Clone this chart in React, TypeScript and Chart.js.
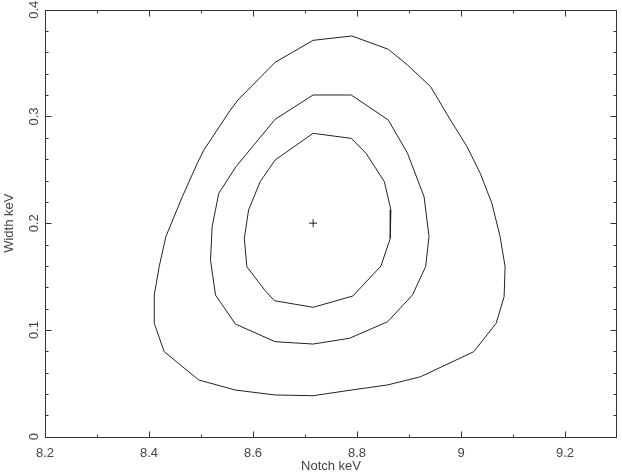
import React, { useEffect, useRef } from 'react';
import { Chart, registerables } from 'chart.js';

Chart.register(...registerables);

const xTitle = 'Notch keV';
const yTitle = 'Width keV';

const xMajorTicks = [8.2, 8.4, 8.6, 8.8, 9, 9.2];
const xMinorTicks = [8.3, 8.5, 8.7, 8.9, 9.1];
const yMajorTicks = [0, 0.1, 0.2, 0.3, 0.4];
const yMinorTicks = [
  0.02, 0.04, 0.06, 0.08, 0.12, 0.14, 0.16, 0.18, 0.22, 0.24, 0.26, 0.28, 0.32, 0.34, 0.36, 0.38,
];

// Outer contour
const outerX = [
  8.7156, 8.7901, 8.8602, 8.8971, 8.9416, 8.9797, 9.0116, 9.037, 9.0594, 9.0752, 9.0848, 9.0829,
  9.0676, 9.0244, 8.9224, 8.8589, 8.7888, 8.7156, 8.6425, 8.5661, 8.496, 8.4292, 8.4101, 8.4101,
  8.4196, 8.4324, 8.4641, 8.4928, 8.5056, 8.5565, 8.5711, 8.6425,
];
const outerY = [
  0.3713, 0.3754, 0.3629, 0.3482, 0.3279, 0.2967, 0.2717, 0.2467, 0.2186, 0.1874, 0.1593, 0.1311,
  0.1062, 0.0796, 0.0562, 0.0485, 0.0437, 0.0384, 0.0391, 0.0437, 0.0531, 0.0796, 0.1062, 0.1327,
  0.1593, 0.1874, 0.2248, 0.2561, 0.2686, 0.306, 0.3154, 0.3507,
];

// Middle contour
const middleX = [
  8.7156, 8.7888, 8.8602, 8.8971, 8.929, 8.9385, 8.932, 8.9066, 8.8589, 8.7857, 8.7156, 8.6425,
  8.5661, 8.5279, 8.5183, 8.5214, 8.5342, 8.5672, 8.6425,
];
const middleY = [
  0.3201, 0.3201, 0.2967, 0.2655, 0.2248, 0.1874, 0.1593, 0.1327, 0.1077, 0.0922, 0.0868, 0.089,
  0.1056, 0.1327, 0.1655, 0.1967, 0.228, 0.2529, 0.2973,
];

// Inner contour
const innerX = [
  8.7156, 8.7888, 8.8174, 8.8526, 8.8652, 8.864, 8.8461, 8.792, 8.7156, 8.6411, 8.6234, 8.5882,
  8.5833, 8.5915, 8.6138, 8.6425,
];
const innerY = [
  0.2842, 0.2795, 0.2655, 0.2389, 0.2124, 0.1859, 0.1599, 0.1318, 0.1212, 0.1274, 0.1368, 0.1592,
  0.1859, 0.2124, 0.2389, 0.2592,
];

const bestX = [8.7156];
const bestY = [0.2];

const closed = (xs: number[], ys: number[]) => {
  const pts = xs.map((x, i) => ({ x, y: ys[i] }));
  pts.push({ x: xs[0], y: ys[0] });
  return pts;
};

const fmt = (v: number) => String(parseFloat(v.toFixed(3)));

const framePlugin = {
  id: 'pgframe',
  afterDatasetsDraw(chart: any) {
    const { ctx, chartArea: a, scales } = chart;
    const xs = scales.x;
    const ys = scales.y;
    const snap = (v: number) => Math.round(v) + 0.5;
    ctx.save();
    ctx.strokeStyle = '#333';
    ctx.lineWidth = 1;
    const line = (x1: number, y1: number, x2: number, y2: number) => {
      ctx.beginPath();
      ctx.moveTo(x1, y1);
      ctx.lineTo(x2, y2);
      ctx.stroke();
    };
    const L = snap(a.left), R = snap(a.right - 1), T = snap(a.top), B = snap(a.bottom);
    ctx.strokeRect(L, T, R - L, B - T);
    const xTick = (v: number, len: number) => {
      const px = snap(xs.getPixelForValue(v));
      line(px, B, px, B - len);
      line(px, T, px, T + len);
    };
    const yTick = (v: number, len: number) => {
      const py = snap(ys.getPixelForValue(v));
      line(L, py, L + len, py);
      line(R, py, R - len, py);
    };
    xMajorTicks.forEach((v) => xTick(v, 6));
    xMinorTicks.forEach((v) => xTick(v, 3));
    yMajorTicks.forEach((v) => yTick(v, 6));
    yMinorTicks.forEach((v) => yTick(v, 3));

    ctx.fillStyle = '#444';
    ctx.font = '13px "Liberation Sans", Arial, sans-serif';
    ctx.textAlign = 'center';
    ctx.textBaseline = 'alphabetic';
    xMajorTicks.forEach((v) => {
      ctx.fillText(fmt(v), xs.getPixelForValue(v), a.bottom + 19.8);
    });
    ctx.fillText(xTitle, (a.left + a.right) / 2, a.bottom + 33.3);
    yMajorTicks.forEach((v) => {
      ctx.save();
      ctx.translate(a.left - 7.5, ys.getPixelForValue(v));
      ctx.rotate(-Math.PI / 2);
      ctx.fillText(fmt(v), 0, 0);
      ctx.restore();
    });
    ctx.save();
    ctx.translate(13, (a.top + a.bottom) / 2);
    ctx.rotate(-Math.PI / 2);
    ctx.fillText(yTitle, 0, 0);
    ctx.restore();
    ctx.restore();
  },
};

export default function App() {
  const ref = useRef<HTMLCanvasElement>(null);

  useEffect(() => {
    document.body.style.margin = '0';
    const canvas = ref.current;
    if (!canvas) return;
    const lineStyle = {
      showLine: true,
      borderColor: '#222',
      borderWidth: 1,
      pointRadius: 0,
      fill: false,
      tension: 0,
    };
    const chart = new Chart(canvas, {
      type: 'scatter',
      data: {
        datasets: [
          { label: 'outer', data: closed(outerX, outerY), ...lineStyle },
          { label: 'middle', data: closed(middleX, middleY), ...lineStyle },
          { label: 'inner', data: closed(innerX, innerY), ...lineStyle },
          {
            label: 'best',
            data: bestX.map((x, i) => ({ x, y: bestY[i] })),
            showLine: false,
            pointStyle: 'cross',
            pointRadius: 4,
            borderColor: '#222',
            borderWidth: 1,
          },
        ],
      },
      options: {
        responsive: false,
        animation: false,
        events: [],
        layout: { padding: { left: 45, right: 1, top: 9.7, bottom: 35.3 } },
        plugins: { legend: { display: false }, tooltip: { enabled: false } },
        scales: {
          x: { type: 'linear', min: 8.2, max: 9.3, display: false },
          y: { type: 'linear', min: 0, max: 0.4, display: false },
        },
      },
      plugins: [framePlugin],
    });
    return () => chart.destroy();
  }, []);

  return (
    <div style={{ width: 622, height: 472, background: '#fff' }}>
      <canvas ref={ref} width={622} height={472} />
    </div>
  );
}
